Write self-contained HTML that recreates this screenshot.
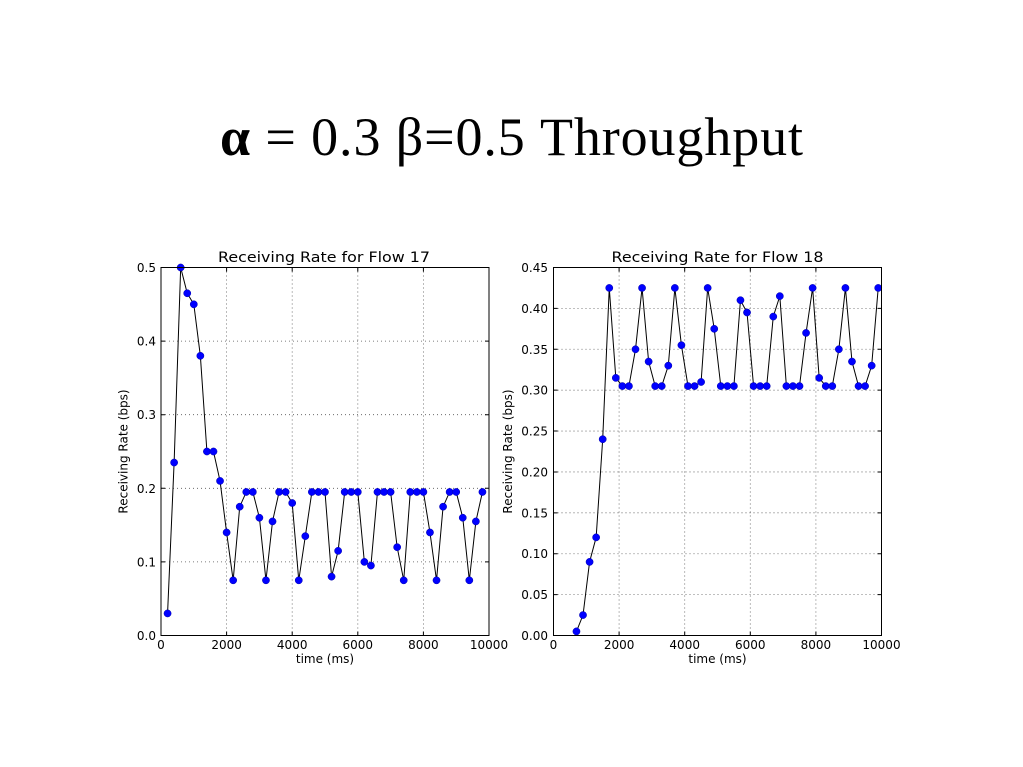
<!DOCTYPE html>
<html>
<head>
<meta charset="utf-8">
<style>
html,body{margin:0;padding:0;background:#fff;}
svg{display:block;}
.tk{font-family:"DejaVu Sans","Liberation Sans",sans-serif;font-size:12px;fill:#000;}
.ttl{font-family:"DejaVu Sans","Liberation Sans",sans-serif;font-size:14.5px;fill:#000;}
.main{font-family:"Liberation Serif","Times New Roman",Times,serif;font-size:54px;fill:#000;}
.grid{stroke:#555;stroke-width:0.8;stroke-dasharray:1,3;fill:none;}
</style>
</head>
<body>
<svg width="1023" height="767" viewBox="0 0 1023 767" xmlns="http://www.w3.org/2000/svg">
<rect width="1023" height="767" fill="#fff"/>
<text class="main" x="220" y="155" textLength="583" lengthAdjust="spacing"><tspan font-weight="bold">α</tspan> = 0.3 β=0.5 Throughput</text>

<!-- LEFT PLOT -->
<g>
<path class="grid" d="M226.6 267.5V635.5M292.2 267.5V635.5M357.8 267.5V635.5M423.4 267.5V635.5M161 561.9H489M161 488.3H489M161 414.7H489M161 341.1H489"/>
<path stroke="#000" stroke-width="1" fill="none" d="M226.6 635.5v-4M292.2 635.5v-4M357.8 635.5v-4M423.4 635.5v-4M226.6 267.5v4M292.2 267.5v4M357.8 267.5v4M423.4 267.5v4M161 561.9h4M161 488.3h4M161 414.7h4M161 341.1h4M489 561.9h-4M489 488.3h-4M489 414.7h-4M489 341.1h-4"/>
<polyline fill="none" stroke="#000" stroke-width="1" points="167.56,613.42 174.12,462.54 180.68,267.5 187.24,293.26 193.8,304.3 200.36,355.82 206.92,451.5 213.48,451.5 220.04,480.94 226.6,532.46 233.16,580.3 239.72,506.7 246.28,491.98 252.84,491.98 259.4,517.74 265.96,580.3 272.52,521.42 279.08,491.98 285.64,491.98 292.2,503.02 298.76,580.3 305.32,536.14 311.88,491.98 318.44,491.98 325,491.98 331.56,576.62 338.12,550.86 344.68,491.98 351.24,491.98 357.8,491.98 364.36,561.9 370.92,565.58 377.48,491.98 384.04,491.98 390.6,491.98 397.16,547.18 403.72,580.3 410.28,491.98 416.84,491.98 423.4,491.98 429.96,532.46 436.52,580.3 443.08,506.7 449.64,491.98 456.2,491.98 462.76,517.74 469.32,580.3 475.88,521.42 482.44,491.98"/>
<g fill="#0000ff" stroke="#0000aa" stroke-width="0.5">
<circle cx="167.56" cy="613.42" r="3.6"/><circle cx="174.12" cy="462.54" r="3.6"/><circle cx="180.68" cy="267.5" r="3.6"/><circle cx="187.24" cy="293.26" r="3.6"/><circle cx="193.8" cy="304.3" r="3.6"/><circle cx="200.36" cy="355.82" r="3.6"/><circle cx="206.92" cy="451.5" r="3.6"/><circle cx="213.48" cy="451.5" r="3.6"/><circle cx="220.04" cy="480.94" r="3.6"/><circle cx="226.6" cy="532.46" r="3.6"/><circle cx="233.16" cy="580.3" r="3.6"/><circle cx="239.72" cy="506.7" r="3.6"/><circle cx="246.28" cy="491.98" r="3.6"/><circle cx="252.84" cy="491.98" r="3.6"/><circle cx="259.4" cy="517.74" r="3.6"/><circle cx="265.96" cy="580.3" r="3.6"/><circle cx="272.52" cy="521.42" r="3.6"/><circle cx="279.08" cy="491.98" r="3.6"/><circle cx="285.64" cy="491.98" r="3.6"/><circle cx="292.2" cy="503.02" r="3.6"/><circle cx="298.76" cy="580.3" r="3.6"/><circle cx="305.32" cy="536.14" r="3.6"/><circle cx="311.88" cy="491.98" r="3.6"/><circle cx="318.44" cy="491.98" r="3.6"/><circle cx="325" cy="491.98" r="3.6"/><circle cx="331.56" cy="576.62" r="3.6"/><circle cx="338.12" cy="550.86" r="3.6"/><circle cx="344.68" cy="491.98" r="3.6"/><circle cx="351.24" cy="491.98" r="3.6"/><circle cx="357.8" cy="491.98" r="3.6"/><circle cx="364.36" cy="561.9" r="3.6"/><circle cx="370.92" cy="565.58" r="3.6"/><circle cx="377.48" cy="491.98" r="3.6"/><circle cx="384.04" cy="491.98" r="3.6"/><circle cx="390.6" cy="491.98" r="3.6"/><circle cx="397.16" cy="547.18" r="3.6"/><circle cx="403.72" cy="580.3" r="3.6"/><circle cx="410.28" cy="491.98" r="3.6"/><circle cx="416.84" cy="491.98" r="3.6"/><circle cx="423.4" cy="491.98" r="3.6"/><circle cx="429.96" cy="532.46" r="3.6"/><circle cx="436.52" cy="580.3" r="3.6"/><circle cx="443.08" cy="506.7" r="3.6"/><circle cx="449.64" cy="491.98" r="3.6"/><circle cx="456.2" cy="491.98" r="3.6"/><circle cx="462.76" cy="517.74" r="3.6"/><circle cx="469.32" cy="580.3" r="3.6"/><circle cx="475.88" cy="521.42" r="3.6"/><circle cx="482.44" cy="491.98" r="3.6"/>
</g>
<rect x="161" y="267.5" width="328" height="368" fill="none" stroke="#000" stroke-width="1"/>
<g class="tk" text-anchor="end">
<text x="156" y="640">0.0</text><text x="156" y="566.4">0.1</text><text x="156" y="492.8">0.2</text><text x="156" y="419.2">0.3</text><text x="156" y="345.6">0.4</text><text x="156" y="272">0.5</text>
</g>
<g class="tk" text-anchor="middle">
<text x="161" y="649">0</text><text x="226.6" y="649">2000</text><text x="292.2" y="649">4000</text><text x="357.8" y="649">6000</text><text x="423.4" y="649">8000</text><text x="489" y="649">10000</text>
<text x="325" y="663">time (ms)</text>
</g>
<text class="ttl" x="218" y="262" textLength="212" lengthAdjust="spacingAndGlyphs">Receiving Rate for Flow 17</text>
<text class="tk" text-anchor="middle" transform="translate(127.5,451.5) rotate(-90)">Receiving Rate (bps)</text>
</g>

<!-- RIGHT PLOT -->
<g>
<path class="grid" d="M619.1 267.5V635.5M684.7 267.5V635.5M750.3 267.5V635.5M815.9 267.5V635.5M553.5 594.61H881.5M553.5 553.72H881.5M553.5 512.83H881.5M553.5 471.94H881.5M553.5 431.06H881.5M553.5 390.17H881.5M553.5 349.28H881.5M553.5 308.39H881.5"/>
<path stroke="#000" stroke-width="1" fill="none" d="M619.1 635.5v-4M684.7 635.5v-4M750.3 635.5v-4M815.9 635.5v-4M619.1 267.5v4M684.7 267.5v4M750.3 267.5v4M815.9 267.5v4M553.5 594.61h4M553.5 553.72h4M553.5 512.83h4M553.5 471.94h4M553.5 431.06h4M553.5 390.17h4M553.5 349.28h4M553.5 308.39h4M881.5 594.61h-4M881.5 553.72h-4M881.5 512.83h-4M881.5 471.94h-4M881.5 431.06h-4M881.5 390.17h-4M881.5 349.28h-4M881.5 308.39h-4"/>
<polyline fill="none" stroke="#000" stroke-width="1" points="576.46,631.41 583.02,615.06 589.58,561.9 596.14,537.37 602.7,439.23 609.26,287.94 615.82,377.9 622.38,386.08 628.94,386.08 635.5,349.28 642.06,287.94 648.62,361.54 655.18,386.08 661.74,386.08 668.3,365.63 674.86,287.94 681.42,345.19 687.98,386.08 694.54,386.08 701.1,381.99 707.66,287.94 714.22,328.83 720.78,386.08 727.34,386.08 733.9,386.08 740.46,300.21 747.02,312.48 753.58,386.08 760.14,386.08 766.7,386.08 773.26,316.57 779.82,296.12 786.38,386.08 792.94,386.08 799.5,386.08 806.06,332.92 812.62,287.94 819.18,377.9 825.74,386.08 832.3,386.08 838.86,349.28 845.42,287.94 851.98,361.54 858.54,386.08 865.1,386.08 871.66,365.63 878.22,287.94"/>
<g fill="#0000ff" stroke="#0000aa" stroke-width="0.5">
<circle cx="576.46" cy="631.41" r="3.6"/><circle cx="583.02" cy="615.06" r="3.6"/><circle cx="589.58" cy="561.9" r="3.6"/><circle cx="596.14" cy="537.37" r="3.6"/><circle cx="602.7" cy="439.23" r="3.6"/><circle cx="609.26" cy="287.94" r="3.6"/><circle cx="615.82" cy="377.9" r="3.6"/><circle cx="622.38" cy="386.08" r="3.6"/><circle cx="628.94" cy="386.08" r="3.6"/><circle cx="635.5" cy="349.28" r="3.6"/><circle cx="642.06" cy="287.94" r="3.6"/><circle cx="648.62" cy="361.54" r="3.6"/><circle cx="655.18" cy="386.08" r="3.6"/><circle cx="661.74" cy="386.08" r="3.6"/><circle cx="668.3" cy="365.63" r="3.6"/><circle cx="674.86" cy="287.94" r="3.6"/><circle cx="681.42" cy="345.19" r="3.6"/><circle cx="687.98" cy="386.08" r="3.6"/><circle cx="694.54" cy="386.08" r="3.6"/><circle cx="701.1" cy="381.99" r="3.6"/><circle cx="707.66" cy="287.94" r="3.6"/><circle cx="714.22" cy="328.83" r="3.6"/><circle cx="720.78" cy="386.08" r="3.6"/><circle cx="727.34" cy="386.08" r="3.6"/><circle cx="733.9" cy="386.08" r="3.6"/><circle cx="740.46" cy="300.21" r="3.6"/><circle cx="747.02" cy="312.48" r="3.6"/><circle cx="753.58" cy="386.08" r="3.6"/><circle cx="760.14" cy="386.08" r="3.6"/><circle cx="766.7" cy="386.08" r="3.6"/><circle cx="773.26" cy="316.57" r="3.6"/><circle cx="779.82" cy="296.12" r="3.6"/><circle cx="786.38" cy="386.08" r="3.6"/><circle cx="792.94" cy="386.08" r="3.6"/><circle cx="799.5" cy="386.08" r="3.6"/><circle cx="806.06" cy="332.92" r="3.6"/><circle cx="812.62" cy="287.94" r="3.6"/><circle cx="819.18" cy="377.9" r="3.6"/><circle cx="825.74" cy="386.08" r="3.6"/><circle cx="832.3" cy="386.08" r="3.6"/><circle cx="838.86" cy="349.28" r="3.6"/><circle cx="845.42" cy="287.94" r="3.6"/><circle cx="851.98" cy="361.54" r="3.6"/><circle cx="858.54" cy="386.08" r="3.6"/><circle cx="865.1" cy="386.08" r="3.6"/><circle cx="871.66" cy="365.63" r="3.6"/><circle cx="878.22" cy="287.94" r="3.6"/>
</g>
<rect x="553.5" y="267.5" width="328" height="368" fill="none" stroke="#000" stroke-width="1"/>
<g class="tk" text-anchor="end">
<text x="548" y="640">0.00</text><text x="548" y="599.1">0.05</text><text x="548" y="558.2">0.10</text><text x="548" y="517.3">0.15</text><text x="548" y="476.4">0.20</text><text x="548" y="435.6">0.25</text><text x="548" y="394.7">0.30</text><text x="548" y="353.8">0.35</text><text x="548" y="312.9">0.40</text><text x="548" y="272">0.45</text>
</g>
<g class="tk" text-anchor="middle">
<text x="553.5" y="649">0</text><text x="619.1" y="649">2000</text><text x="684.7" y="649">4000</text><text x="750.3" y="649">6000</text><text x="815.9" y="649">8000</text><text x="881.5" y="649">10000</text>
<text x="717.5" y="663">time (ms)</text>
</g>
<text class="ttl" x="611.5" y="262" textLength="212" lengthAdjust="spacingAndGlyphs">Receiving Rate for Flow 18</text>
<text class="tk" text-anchor="middle" transform="translate(512,451.5) rotate(-90)">Receiving Rate (bps)</text>
</g>
</svg>
</body>
</html>
